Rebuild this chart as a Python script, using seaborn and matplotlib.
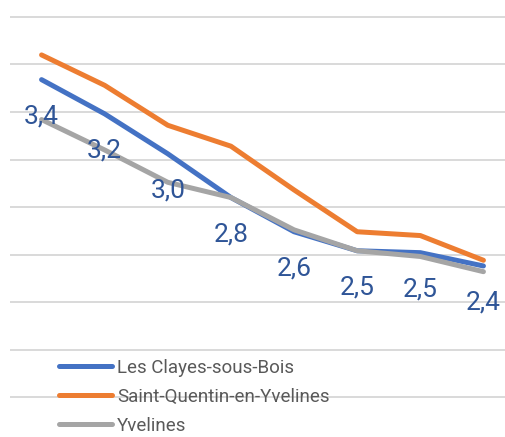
import numpy as np
import pandas as pd
import matplotlib
matplotlib.use("Agg")
import matplotlib.pyplot as plt
import seaborn as sns

# Données
periodes = list(range(8))
clayes = [3.42, 3.24, 3.03, 2.80, 2.62, 2.52, 2.51, 2.44]
sqy = [3.55, 3.39, 3.18, 3.07, 2.84, 2.62, 2.60, 2.47]
yvelines = [3.21, 3.05, 2.88, 2.80, 2.63, 2.52, 2.49, 2.41]
series = ["Les Clayes-sous-Bois", "Saint-Quentin-en-Yvelines", "Yvelines"]
couleurs = ["#4472C4", "#ED7D31", "#A5A5A5"]

sns.set_style("white")
plt.rcParams['font.family'] = ['Roboto', 'DejaVu Sans']

df = pd.DataFrame({
    'periode': periodes * 3,
    'valeur': clayes + sqy + yvelines,
    'serie': [s for s in series for _ in periodes],
})

fig = plt.figure(figsize=(5.06, 4.37), dpi=100)
ax = fig.add_axes([10 / 506, -7.7 / 437, 505 / 506, 429.7 / 437])

sns.lineplot(data=df, x='periode', y='valeur', hue='serie', hue_order=series,
             palette=couleurs, linewidth=3.6, solid_capstyle='round', ax=ax)

ax.set_xlim(-0.5, 7.5)
ax.set_ylim(1.5, 3.76)
ax.set_yticks(np.arange(1.75, 3.76, 0.25))
ax.grid(axis='y', color='#d9d9d9', linewidth=1.4)
ax.grid(axis='x', visible=False)
ax.set_axisbelow(True)
ax.tick_params(left=False, bottom=False, labelleft=False, labelbottom=False)
ax.set_xlabel('')
ax.set_ylabel('')
for s in ax.spines.values():
    s.set_visible(False)

# étiquettes de données (série Les Clayes-sous-Bois)
for x, v in zip(periodes, clayes):
    ax.annotate(f"{v:.1f}".replace('.', ','), (x, v), xytext=(0, -26.6),
                textcoords='offset points', ha='center', va='center',
                fontsize=19, color='#2F5597')

ax.legend(loc='upper left', bbox_to_anchor=(59 / 506, 1 - 359 / 437),
          bbox_transform=fig.transFigure, frameon=False, borderpad=0,
          borderaxespad=0, handlelength=2.83, handletextpad=0.25,
          labelspacing=0.58, fontsize=13.5, labelcolor='#595959')

plt.savefig('out.png', dpi=100)
